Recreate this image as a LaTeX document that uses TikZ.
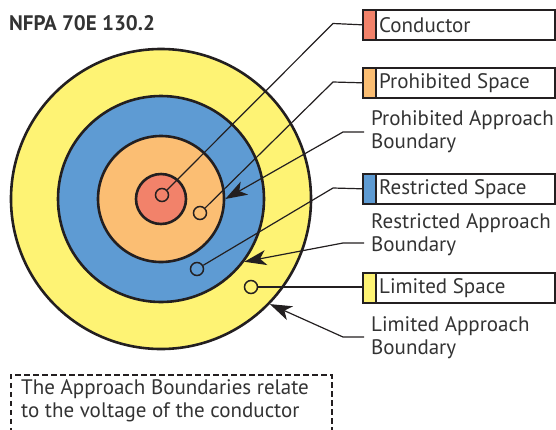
\documentclass[tikz,border=0pt]{standalone}
\usepackage{fontspec}
\setmainfont{PT Sans}
\usetikzlibrary{arrows.meta}
\definecolor{cred}{HTML}{F2826A}
\definecolor{corange}{HTML}{FBBE73}
\definecolor{cblue}{HTML}{5E9BD3}
\definecolor{cyellow}{HTML}{FEF374}
\definecolor{cline}{HTML}{231F20}
\definecolor{ctext}{HTML}{333333}
\begin{document}
\begin{tikzpicture}[x=1pt,y=-1pt,
  ring/.style={circle, draw=cline, line width=2.6pt, inner sep=0pt, fill=#1},
  dot/.style={circle, draw=cline, line width=1.5pt, inner sep=0pt, minimum size=13pt, fill=#1},
  conn/.style={draw=cline, line width=1.2pt},
  arr/.style={conn, -{Stealth[length=22pt,width=15pt,inset=6pt]}},
  legend/.style={draw=cline, line width=1.6pt, minimum width=192pt, minimum height=30pt, inner sep=0pt, anchor=north west,
    path picture={\fill[#1] (path picture bounding box.north west) rectangle ([xshift=13pt]path picture bounding box.south west);
      \draw[cline, line width=1.6pt] ([xshift=13pt]path picture bounding box.north west) -- ([xshift=13pt]path picture bounding box.south west);}},
  lbl/.style={inner sep=0pt, anchor=west, text=ctext, font=\fontsize{21}{23}\selectfont, align=left}
]
\useasboundingbox (0,0) rectangle (556,429);
\node[lbl, font=\fontsize{21}{23}\selectfont\bfseries] (title) at (9,23) {NFPA 70E 130.2};

% target rings
\node[ring=cyellow, minimum size=300pt] (yel) at (161,199) {};
\node[ring=cblue, minimum size=206pt] (blu) at (161,199) {};
\node[ring=corange, minimum size=126pt] (ora) at (161,199) {};
\node[ring=cred, minimum size=50pt] (red) at (161,199) {};

% endpoint dots
\node[dot=cred] (dc) at (162,195) {};
\node[dot=corange] (dp) at (200,213) {};
\node[dot=cblue] (dr) at (197,269) {};
\node[dot=cyellow] (dl) at (251,287) {};

% legend boxes
\node[legend=cred] (bc) at (362,9) {};
\node[legend=corange] (bp) at (362,67) {};
\node[legend=cblue] (br) at (362,173) {};
\node[legend=cyellow] (bl) at (362,272) {};
\node[lbl] (tc) at ([xshift=17pt]bc.west) {Conductor};
\node[lbl] (tp) at ([xshift=17pt]bp.west) {Prohibited Space};
\node[lbl] (tr) at ([xshift=17pt]br.west) {Restricted Space};
\node[lbl] (tl) at ([xshift=17pt]bl.west) {Limited Space};

% boundary labels
\node[lbl] (tpab) at (371,131.5) {Prohibited Approach\\Boundary};
\node[lbl] (trab) at (371,234.5) {Restricted Approach\\Boundary};
\node[lbl] (tlab) at (371,337.5) {Limited Approach\\Boundary};

% connectors to legend boxes
\coordinate (kc) at (333,23.5);
\coordinate (kp) at (333,82);
\coordinate (kr) at (333,188);
\draw[conn] (dc) -- (kc) -- (bc.west);
\draw[conn] (dp) -- (kp) -- (bp.west);
\draw[conn] (dr) -- (kr) -- (br.west);
\draw[conn] (dl) -- (dl -| bl.west);

% boundary arrows
\coordinate (pa1) at (364,132);
\coordinate (pa2) at (343,132);
\coordinate (ra1) at (364,243);
\coordinate (ra2) at (343,243);
\coordinate (la1) at (364,337);
\coordinate (la2) at (343,337);
\draw[arr] (pa1) -- (pa2) -- (ora.0);
\draw[arr] (ra1) -- (ra2) -- (blu.-37.5);
\draw[arr] (la1) -- (la2) -- (yel.-44.5);

% note box
\begin{scope}
\clip (0,0) rectangle (556,429);
\node[draw=cline, line width=1.8pt, dash pattern=on 5.5pt off 3.5pt, anchor=north west,
  minimum width=321pt, minimum height=70pt, inner sep=0pt] (note) at (10,374) {};
\end{scope}
\node[lbl] (tnote) at (21,401) {The Approach Boundaries relate\\to the voltage of the conductor};
\end{tikzpicture}
\end{document}
